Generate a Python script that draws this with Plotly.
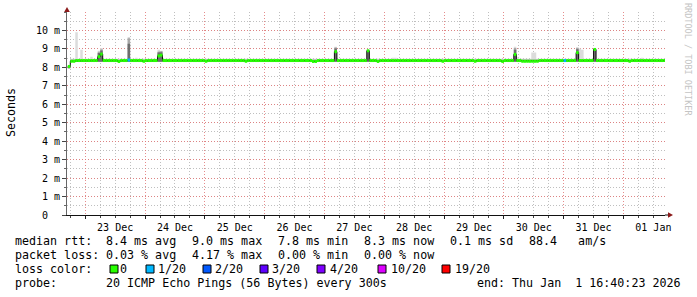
import plotly.graph_objects as go
from datetime import datetime, timedelta

# ---------------- data (hourly consolidated samples) ----------------
RANGE_START = "2025-12-22 16:40:23"
RANGE_END = "2026-01-01 16:40:23"
FIRST_SAMPLE = datetime(2025, 12, 22, 17, 0)
STEP = timedelta(hours=1)

# median RTT in ms, one value per hour
median = [
    8.05, 8.33, 8.33, 8.37, 8.37, 8.37, 8.37, 8.37, 8.37, 8.37, 8.37, 8.37,
    8.58, 8.72, 8.37, 8.37, 8.37, 8.37, 8.37, 8.37, 8.32, 8.37, 8.37, 8.37,
    8.40, 8.37, 8.37, 8.37, 8.37, 8.37, 8.33, 8.37, 8.37, 8.37, 8.37, 8.37,
    8.62, 8.66, 8.37, 8.37, 8.37, 8.37, 8.37, 8.37, 8.37, 8.37, 8.37, 8.37,
    8.37, 8.37, 8.37, 8.37, 8.37, 8.37, 8.37, 8.33, 8.37, 8.37, 8.37, 8.37,
    8.37, 8.37, 8.37, 8.37, 8.37, 8.37, 8.37, 8.37, 8.37, 8.37, 8.37, 8.33,
    8.37, 8.37, 8.37, 8.37, 8.37, 8.37, 8.37, 8.37, 8.37, 8.37, 8.37, 8.37,
    8.37, 8.37, 8.37, 8.37, 8.37, 8.37, 8.37, 8.37, 8.37, 8.37, 8.37, 8.37,
    8.37, 8.37, 8.32, 8.32, 8.37, 8.37, 8.37, 8.37, 8.37, 8.37, 8.37, 8.85,
    8.37, 8.37, 8.37, 8.37, 8.37, 8.37, 8.37, 8.37, 8.37, 8.37, 8.37, 8.37,
    8.90, 8.37, 8.37, 8.37, 8.32, 8.37, 8.37, 8.37, 8.37, 8.37, 8.37, 8.37,
    8.37, 8.37, 8.37, 8.37, 8.37, 8.37, 8.37, 8.37, 8.37, 8.37, 8.37, 8.37,
    8.37, 8.37, 8.37, 8.37, 8.37, 8.37, 8.33, 8.37, 8.37, 8.37, 8.37, 8.37,
    8.37, 8.37, 8.37, 8.37, 8.37, 8.37, 8.37, 8.33, 8.37, 8.37, 8.37, 8.37,
    8.37, 8.37, 8.37, 8.37, 8.37, 8.37, 8.32, 8.37, 8.37, 8.37, 8.37, 8.70,
    8.37, 8.37, 8.33, 8.33, 8.33, 8.33, 8.33, 8.33, 8.33, 8.37, 8.37, 8.37,
    8.37, 8.37, 8.37, 8.37, 8.37, 8.37, 8.37, 8.37, 8.37, 8.37, 8.37, 8.37,
    8.80, 8.37, 8.37, 8.37, 8.37, 8.37, 8.37, 8.97, 8.37, 8.37, 8.37, 8.37,
    8.37, 8.37, 8.37, 8.37, 8.37, 8.37, 8.37, 8.37, 8.37, 8.33, 8.37, 8.37,
    8.37, 8.37, 8.37, 8.37, 8.37, 8.37, 8.37, 8.37, 8.37, 8.37, 8.37, 8.37,
]

# lowest ping of each hour (ms)
smoke_lo = [
    7.95, 8.30, 8.30, 8.30, 8.30, 8.30, 8.30, 8.30, 8.30, 8.30, 8.30, 8.30,
    8.30, 8.30, 8.30, 8.30, 8.30, 8.30, 8.30, 8.30, 8.30, 8.30, 8.30, 8.30,
    8.30, 8.30, 8.30, 8.30, 8.30, 8.30, 8.30, 8.30, 8.30, 8.30, 8.30, 8.30,
    8.30, 8.30, 8.30, 8.30, 8.30, 8.30, 8.30, 8.30, 8.30, 8.30, 8.30, 8.30,
    8.30, 8.30, 8.30, 8.30, 8.30, 8.30, 8.30, 8.30, 8.30, 8.30, 8.30, 8.30,
    8.30, 8.30, 8.30, 8.30, 8.30, 8.30, 8.30, 8.30, 8.30, 8.30, 8.30, 8.30,
    8.30, 8.30, 8.30, 8.30, 8.30, 8.30, 8.30, 8.30, 8.30, 8.30, 8.30, 8.30,
    8.30, 8.30, 8.30, 8.30, 8.30, 8.30, 8.30, 8.30, 8.30, 8.30, 8.30, 8.30,
    8.30, 8.30, 8.30, 8.30, 8.30, 8.30, 8.30, 8.30, 8.30, 8.30, 8.30, 8.30,
    8.30, 8.30, 8.30, 8.30, 8.30, 8.30, 8.30, 8.30, 8.30, 8.30, 8.30, 8.30,
    8.30, 8.30, 8.30, 8.30, 8.30, 8.30, 8.30, 8.30, 8.30, 8.30, 8.30, 8.30,
    8.30, 8.30, 8.30, 8.30, 8.30, 8.30, 8.30, 8.30, 8.30, 8.30, 8.30, 8.30,
    8.30, 8.30, 8.30, 8.30, 8.30, 8.30, 8.30, 8.30, 8.30, 8.30, 8.30, 8.30,
    8.30, 8.30, 8.30, 8.30, 8.30, 8.30, 8.30, 8.30, 8.30, 8.30, 8.30, 8.30,
    8.30, 8.30, 8.30, 8.30, 8.30, 8.30, 8.30, 8.30, 8.30, 8.30, 8.30, 8.30,
    8.30, 8.30, 8.30, 8.30, 8.30, 8.30, 8.30, 8.30, 8.30, 8.30, 8.30, 8.30,
    8.30, 8.30, 8.30, 8.30, 8.30, 8.30, 8.30, 8.30, 8.30, 8.30, 8.30, 8.30,
    8.30, 8.30, 8.30, 8.30, 8.30, 8.30, 8.30, 8.30, 8.30, 8.30, 8.30, 8.30,
    8.30, 8.30, 8.30, 8.30, 8.30, 8.30, 8.30, 8.30, 8.30, 8.30, 8.30, 8.30,
    8.30, 8.30, 8.30, 8.30, 8.30, 8.30, 8.30, 8.30, 8.30, 8.30, 8.30, 8.30,
]

# highest ping of each hour (outer, light smoke)
smoke_hi = [
    8.10, 8.47, 8.47, 9.90, 8.47, 8.95, 8.47, 8.47, 8.47, 8.58, 8.47, 8.47,
    8.90, 9.05, 8.47, 8.47, 8.47, 8.47, 8.47, 8.47, 8.47, 8.47, 8.47, 8.47,
    9.64, 8.47, 8.47, 8.52, 8.47, 8.50, 8.47, 8.47, 8.47, 8.47, 8.47, 8.47,
    8.95, 8.90, 8.47, 8.47, 8.47, 8.47, 8.47, 8.47, 8.47, 8.47, 8.47, 8.47,
    8.47, 8.47, 8.47, 8.47, 8.47, 8.47, 8.47, 8.47, 8.47, 8.47, 8.47, 8.47,
    8.47, 8.47, 8.47, 8.47, 8.47, 8.47, 8.47, 8.47, 8.47, 8.47, 8.47, 8.47,
    8.47, 8.47, 8.47, 8.47, 8.47, 8.47, 8.47, 8.47, 8.47, 8.47, 8.47, 8.47,
    8.47, 8.47, 8.47, 8.47, 8.47, 8.47, 8.47, 8.47, 8.47, 8.47, 8.48, 8.50,
    8.47, 8.47, 8.47, 8.47, 8.47, 8.47, 8.47, 8.47, 8.47, 8.47, 8.47, 9.12,
    8.47, 8.47, 8.47, 8.47, 8.47, 8.47, 8.47, 8.47, 8.50, 8.47, 8.50, 8.47,
    8.95, 8.47, 8.47, 8.47, 8.47, 8.47, 8.47, 8.47, 8.47, 8.47, 8.52, 8.52,
    8.47, 8.47, 8.47, 8.47, 8.47, 8.47, 8.47, 8.47, 8.47, 8.47, 8.47, 8.47,
    8.47, 8.47, 8.47, 8.47, 8.47, 8.47, 8.47, 8.47, 8.47, 8.47, 8.47, 8.47,
    8.47, 8.47, 8.47, 8.47, 8.47, 8.47, 8.47, 8.47, 8.47, 8.47, 8.47, 8.47,
    8.47, 8.47, 8.47, 8.47, 8.47, 8.47, 8.47, 8.47, 8.47, 8.47, 8.47, 9.12,
    8.55, 8.47, 8.47, 8.47, 8.47, 8.47, 8.80, 8.80, 8.47, 8.47, 8.47, 8.50,
    8.47, 8.47, 8.47, 8.47, 8.47, 8.47, 8.47, 8.47, 8.47, 8.47, 8.47, 8.47,
    9.10, 9.02, 8.95, 8.47, 8.47, 8.47, 8.47, 9.05, 8.47, 8.47, 8.47, 8.47,
    8.47, 8.47, 8.47, 8.47, 8.47, 8.47, 8.47, 8.47, 8.47, 8.47, 8.47, 8.47,
    8.47, 8.47, 8.52, 8.47, 8.47, 8.47, 8.47, 8.47, 8.47, 8.47, 8.47, 8.47,
]

# upper edge of the medium-density smoke
smoke_mid = [
    8.08, 8.42, 8.42, 8.42, 8.42, 8.42, 8.42, 8.42, 8.42, 8.42, 8.42, 8.42,
    8.85, 8.98, 8.42, 8.42, 8.42, 8.42, 8.42, 8.42, 8.42, 8.42, 8.42, 8.42,
    9.58, 8.42, 8.42, 8.42, 8.42, 8.42, 8.42, 8.42, 8.42, 8.42, 8.42, 8.42,
    8.85, 8.88, 8.42, 8.42, 8.42, 8.42, 8.42, 8.42, 8.42, 8.42, 8.42, 8.42,
    8.42, 8.42, 8.42, 8.42, 8.42, 8.42, 8.42, 8.42, 8.42, 8.42, 8.42, 8.42,
    8.42, 8.42, 8.42, 8.42, 8.42, 8.42, 8.42, 8.42, 8.42, 8.42, 8.42, 8.42,
    8.42, 8.42, 8.42, 8.42, 8.42, 8.42, 8.42, 8.42, 8.42, 8.42, 8.42, 8.42,
    8.42, 8.42, 8.42, 8.42, 8.42, 8.42, 8.42, 8.42, 8.42, 8.42, 8.42, 8.42,
    8.42, 8.42, 8.42, 8.42, 8.42, 8.42, 8.42, 8.42, 8.42, 8.42, 8.42, 9.08,
    8.42, 8.42, 8.42, 8.42, 8.42, 8.42, 8.42, 8.42, 8.42, 8.42, 8.42, 8.42,
    8.93, 8.42, 8.42, 8.42, 8.42, 8.42, 8.42, 8.42, 8.42, 8.42, 8.42, 8.42,
    8.42, 8.42, 8.42, 8.42, 8.42, 8.42, 8.42, 8.42, 8.42, 8.42, 8.42, 8.42,
    8.42, 8.42, 8.42, 8.42, 8.42, 8.42, 8.42, 8.42, 8.42, 8.42, 8.42, 8.42,
    8.42, 8.42, 8.42, 8.42, 8.42, 8.42, 8.42, 8.42, 8.42, 8.42, 8.42, 8.42,
    8.42, 8.42, 8.42, 8.42, 8.42, 8.42, 8.42, 8.42, 8.42, 8.42, 8.42, 9.05,
    8.42, 8.42, 8.42, 8.42, 8.42, 8.42, 8.42, 8.42, 8.42, 8.42, 8.42, 8.42,
    8.42, 8.42, 8.42, 8.42, 8.42, 8.42, 8.42, 8.42, 8.42, 8.42, 8.42, 8.42,
    9.05, 8.42, 8.42, 8.42, 8.42, 8.42, 8.42, 9.03, 8.42, 8.42, 8.42, 8.42,
    8.42, 8.42, 8.42, 8.42, 8.42, 8.42, 8.42, 8.42, 8.42, 8.42, 8.42, 8.42,
    8.42, 8.42, 8.42, 8.42, 8.42, 8.42, 8.42, 8.42, 8.42, 8.42, 8.42, 8.42,
]

# upper edge of the dense (dark) smoke
smoke_dark = [
    8.06, 8.40, 8.40, 8.40, 8.40, 8.40, 8.40, 8.40, 8.40, 8.40, 8.40, 8.40,
    8.78, 8.92, 8.40, 8.40, 8.40, 8.40, 8.40, 8.40, 8.40, 8.40, 8.40, 8.40,
    9.28, 8.40, 8.40, 8.40, 8.40, 8.40, 8.40, 8.40, 8.40, 8.40, 8.40, 8.40,
    8.80, 8.82, 8.40, 8.40, 8.40, 8.40, 8.40, 8.40, 8.40, 8.40, 8.40, 8.40,
    8.40, 8.40, 8.40, 8.40, 8.40, 8.40, 8.40, 8.40, 8.40, 8.40, 8.40, 8.40,
    8.40, 8.40, 8.40, 8.40, 8.40, 8.40, 8.40, 8.40, 8.40, 8.40, 8.40, 8.40,
    8.40, 8.40, 8.40, 8.40, 8.40, 8.40, 8.40, 8.40, 8.40, 8.40, 8.40, 8.40,
    8.40, 8.40, 8.40, 8.40, 8.40, 8.40, 8.40, 8.40, 8.40, 8.40, 8.40, 8.40,
    8.40, 8.40, 8.40, 8.40, 8.40, 8.40, 8.40, 8.40, 8.40, 8.40, 8.40, 9.02,
    8.40, 8.40, 8.40, 8.40, 8.40, 8.40, 8.40, 8.40, 8.40, 8.40, 8.40, 8.40,
    8.92, 8.40, 8.40, 8.40, 8.40, 8.40, 8.40, 8.40, 8.40, 8.40, 8.40, 8.40,
    8.40, 8.40, 8.40, 8.40, 8.40, 8.40, 8.40, 8.40, 8.40, 8.40, 8.40, 8.40,
    8.40, 8.40, 8.40, 8.40, 8.40, 8.40, 8.40, 8.40, 8.40, 8.40, 8.40, 8.40,
    8.40, 8.40, 8.40, 8.40, 8.40, 8.40, 8.40, 8.40, 8.40, 8.40, 8.40, 8.40,
    8.40, 8.40, 8.40, 8.40, 8.40, 8.40, 8.40, 8.40, 8.40, 8.40, 8.40, 8.95,
    8.40, 8.40, 8.40, 8.40, 8.40, 8.40, 8.40, 8.40, 8.40, 8.40, 8.40, 8.40,
    8.40, 8.40, 8.40, 8.40, 8.40, 8.40, 8.40, 8.40, 8.40, 8.40, 8.40, 8.40,
    8.98, 8.40, 8.40, 8.40, 8.40, 8.40, 8.40, 9.00, 8.40, 8.40, 8.40, 8.40,
    8.40, 8.40, 8.40, 8.40, 8.40, 8.40, 8.40, 8.40, 8.40, 8.40, 8.40, 8.40,
    8.40, 8.40, 8.40, 8.40, 8.40, 8.40, 8.40, 8.40, 8.40, 8.40, 8.40, 8.40,
]

# lost pings (out of 20) per hour
loss = [
    0, 0, 0, 0, 0, 0, 0, 0, 0, 0, 0, 0, 0, 0, 0, 0, 0, 0, 0, 0, 0, 0, 0, 0,
    1, 0, 0, 0, 0, 0, 0, 0, 0, 0, 0, 0, 0, 0, 0, 0, 0, 0, 0, 0, 0, 0, 0, 0,
    0, 0, 0, 0, 0, 0, 0, 0, 0, 0, 0, 0, 0, 0, 0, 0, 0, 0, 0, 0, 0, 0, 0, 0,
    0, 0, 0, 0, 0, 0, 0, 0, 0, 0, 0, 0, 0, 0, 0, 0, 0, 0, 0, 0, 0, 0, 0, 0,
    0, 0, 0, 0, 0, 0, 0, 0, 0, 0, 0, 0, 0, 0, 0, 0, 0, 0, 0, 0, 0, 0, 0, 0,
    0, 0, 0, 0, 0, 0, 0, 0, 0, 0, 0, 0, 0, 0, 0, 0, 0, 0, 0, 0, 0, 0, 0, 0,
    0, 0, 0, 0, 0, 0, 0, 0, 0, 0, 0, 0, 0, 0, 0, 0, 0, 0, 0, 0, 0, 0, 0, 0,
    0, 0, 0, 0, 0, 0, 0, 0, 0, 0, 0, 0, 0, 0, 0, 0, 0, 0, 0, 0, 0, 0, 0, 0,
    0, 0, 0, 0, 0, 0, 0, 1, 0, 0, 0, 0, 0, 0, 0, 0, 0, 0, 0, 0, 0, 0, 0, 0,
    0, 0, 0, 0, 0, 0, 0, 0, 0, 0, 0, 0, 0, 0, 0, 0, 0, 0, 0, 0, 0, 0, 0, 0,
]

loss_levels = [0, 1, 2, 3, 4, 10, 19]
loss_labels = ["0", "1/20", "2/20", "3/20", "4/20", "10/20", "19/20"]
loss_colors = ["#26ff00", "#00b8ff", "#0059ff", "#5e00ff", "#7e00ff", "#dd00ff", "#ff0000"]

y_tick_vals = [0, 1, 2, 3, 4, 5, 6, 7, 8, 9, 10]
y_tick_text = ["0\u00a0\u00a0", "1 m", "2 m", "3 m", "4 m", "5 m", "6 m", "7 m", "8 m", "9 m", "10 m"]

legend_rows = [
    ["median rtt:", "8.4 ms avg", "9.0 ms max", "7.8 ms min", "8.3 ms now", "0.1 ms sd", "88.4\u00a0\u00a0\u00a0am/s"],
    ["packet loss:", "0.03 % avg", "4.17 % max", "0.00 % min", "0.00 % now"],
]
probe_text = ["probe:", "20 ICMP Echo Pings (56 Bytes) every 300s", "end: Thu Jan\u00a0\u00a01 16:40:23 2026"]

# ---------------- layout geometry (pixels) ----------------
W, H = 697, 297
L, R, T, B = 67, 32, 12, 82
PW, PH = W - L - R, H - T - B
MONO = "DejaVu Sans Mono"


def px(x):
    return (x - L) / PW


def py(y):
    return (H - B - y) / PH


times = [FIRST_SAMPLE + STEP * i for i in range(len(median))]


def steps(vals):
    xs, ys = [], []
    for t, v in zip(times, vals):
        xs += [t, t + STEP]
        ys += [v, v]
    return xs, ys


fig = go.Figure()

# smoke bands
for upper, color in [(smoke_hi, "#dcdcdc"), (smoke_mid, "#a8a8a8"), (smoke_dark, "#6e6e6e")]:
    xl, yl = steps(smoke_lo)
    xu, yu = steps(upper)
    fig.add_trace(go.Scatter(x=xl, y=yl, mode="lines", line=dict(width=0, color=color),
                             hoverinfo="skip", showlegend=False))
    fig.add_trace(go.Scatter(x=xu, y=yu, mode="lines", line=dict(width=0, color=color),
                             fill="tonexty", fillcolor=color, hoverinfo="skip", showlegend=False))

# median step line (black)
xm, ym = steps(median)
fig.add_trace(go.Scatter(x=xm, y=ym, mode="lines", line=dict(width=1, color="#101010"),
                         hoverinfo="skip", showlegend=False))

# median band coloured by loss
for lvl, col in zip(loss_levels, loss_colors):
    xs, ys = [], []
    for t, v, l in zip(times, median, loss):
        if l == lvl:
            xs += [t, t + STEP, None]
            ys += [v, v, None]
    if xs:
        fig.add_trace(go.Scatter(x=xs, y=ys, mode="lines", line=dict(width=3, color=col),
                                 hoverinfo="skip", showlegend=False))

grid_red = "rgba(225,120,120,0.85)"
grid_gray = "rgba(175,175,175,0.8)"

fig.update_xaxes(
    type="date", range=[RANGE_START, RANGE_END],
    tick0="2025-12-23 00:00:00", dtick=86400000, tickformat="%d %b",
    ticklabelmode="period",
    showgrid=True, gridcolor=grid_red, griddash="1px,2px", gridwidth=1,
    ticks="outside", ticklen=3, tickcolor="#222", tickwidth=1,
    tickfont=dict(family=MONO, size=10, color="#000"),
    showline=True, linecolor="#111", linewidth=1, zeroline=False,
    minor=dict(dtick=21600000, tick0="2025-12-23 00:00:00", showgrid=True,
               gridcolor=grid_gray, griddash="1px,2px", gridwidth=1,
               ticks="outside", ticklen=2, tickcolor="#444"),
)
fig.update_yaxes(
    range=[0, 11], tickmode="array", tickvals=y_tick_vals, ticktext=y_tick_text,
    showgrid=True, gridcolor=grid_red, griddash="1px,2px", gridwidth=1,
    ticks="outside", ticklen=4, tickcolor="#444",
    tickfont=dict(family=MONO, size=10, color="#000"),
    showline=True, linecolor="#666", linewidth=1, zeroline=False,
    minor=dict(dtick=0.5, tick0=0, showgrid=True, gridcolor=grid_gray,
               griddash="1px,2px", gridwidth=1, ticks="outside", ticklen=2, tickcolor="#666"),
)

ann = []


def text(x, y, s, size=11.66, color="#000", angle=0, xanchor="left"):
    ann.append(dict(x=px(x), y=py(y), xref="paper", yref="paper", text=s, showarrow=False,
                    xanchor=xanchor, yanchor="middle", textangle=angle, borderpad=0, borderwidth=0,
                    font=dict(family=MONO, size=size, color=color)))


# legend rows
item_x = [16, 107, 193, 279, 365, 451, 530]
for row, yy in zip(legend_rows, [241, 255]):
    for s, xx in zip(row, item_x):
        text(xx - 1, yy, s)

text(15, 269, "loss color:")
box_x = [110, 146, 203, 260, 317, 378, 442]
lab_x = [121, 159, 216, 273, 331, 392, 456]
shapes = []
for bx, lx, lab, col in zip(box_x, lab_x, loss_labels, loss_colors):
    shapes.append(dict(type="rect", xref="paper", yref="paper",
                       x0=px(bx), x1=px(bx + 8), y0=py(273), y1=py(265),
                       fillcolor=col, line=dict(color="#000", width=1)))
    text(lx - 1, 269, lab)

for s, xx in zip(probe_text, [16, 107, 478]):
    text(xx - 1, 283, s)

text(11, 113, "Seconds", angle=-90, xanchor="center")
text(688, 59, "RRDTOOL / TOBI OETIKER", size=8.5, color="#c4c4c4", angle=90, xanchor="center")

# axis arrows
arrow = "#8b1a1a"
shapes.append(dict(type="path", xref="paper", yref="paper",
                   path=f"M {px(64.2)},{py(12)} L {px(67)},{py(7)} L {px(69.8)},{py(12)} Z",
                   fillcolor=arrow, line=dict(color=arrow, width=0)))
shapes.append(dict(type="path", xref="paper", yref="paper",
                   path=f"M {px(665)},{py(215)} L {px(668)},{py(215)}",
                   line=dict(color="#111", width=1)))
shapes.append(dict(type="path", xref="paper", yref="paper",
                   path=f"M {px(668)},{py(212.2)} L {px(673)},{py(215)} L {px(668)},{py(217.8)} Z",
                   fillcolor=arrow, line=dict(color=arrow, width=0)))

fig.update_layout(
    width=W, height=H, margin=dict(l=L, r=R, t=T, b=B, pad=0),
    paper_bgcolor="#ffffff", plot_bgcolor="#ffffff",
    showlegend=False, annotations=ann, shapes=shapes,
    font=dict(family=MONO, size=10, color="#000"),
)

fig.write_html("out.html")
